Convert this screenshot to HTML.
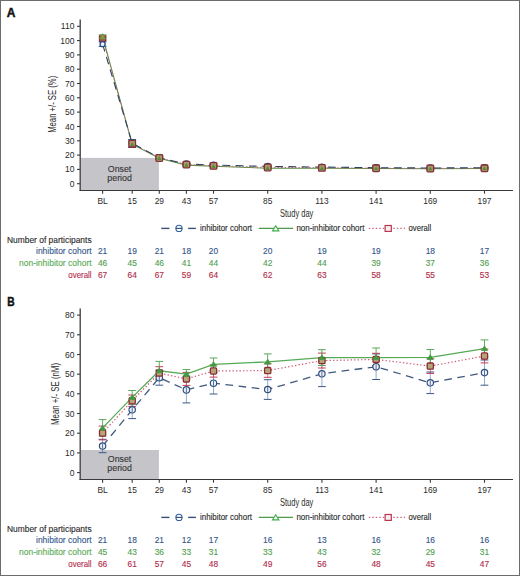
<!DOCTYPE html>
<html><head><meta charset="utf-8"><style>
html,body{margin:0;padding:0;background:#fff;}
.wrap{position:relative;width:520px;height:576px;overflow:hidden;background:#fff;}
svg{position:absolute;left:0;top:0;font-family:"Liberation Sans", sans-serif;}

</style></head><body><div class="wrap">
<svg width="520" height="576" viewBox="0 0 520 576">
<rect x="0" y="0" width="520" height="576" fill="#fff"/>
<text x="6.8" y="16.9" font-size="12" font-weight="bold" fill="#111" stroke="#111" stroke-width="0.45">A</text>
<rect x="80.6" y="157.9" width="78.3" height="32.6" fill="#c5c4c9"/>
<text stroke="#333" stroke-width="0.12" x="119.6" y="172.0" font-size="8.8" fill="#333" text-anchor="middle">Onset</text>
<text stroke="#333" stroke-width="0.12" x="119.6" y="181.2" font-size="8.8" fill="#333" text-anchor="middle">period</text>
<line x1="80.2" y1="19.6" x2="80.2" y2="191.1" stroke="#3a3a3a" stroke-width="1.3"/>
<line x1="79.6" y1="190.5" x2="513" y2="190.5" stroke="#3a3a3a" stroke-width="1.2"/>
<line x1="77" y1="183.7" x2="80" y2="183.7" stroke="#3a3a3a" stroke-width="1.1"/>
<text x="74.4" y="186.7" font-size="8.5" fill="#2a2a2a" text-anchor="end">0</text>
<line x1="77" y1="169.4" x2="80" y2="169.4" stroke="#3a3a3a" stroke-width="1.1"/>
<text x="74.4" y="172.4" font-size="8.5" fill="#2a2a2a" text-anchor="end">10</text>
<line x1="77" y1="155.1" x2="80" y2="155.1" stroke="#3a3a3a" stroke-width="1.1"/>
<text x="74.4" y="158.1" font-size="8.5" fill="#2a2a2a" text-anchor="end">20</text>
<line x1="77" y1="140.8" x2="80" y2="140.8" stroke="#3a3a3a" stroke-width="1.1"/>
<text x="74.4" y="143.8" font-size="8.5" fill="#2a2a2a" text-anchor="end">30</text>
<line x1="77" y1="126.5" x2="80" y2="126.5" stroke="#3a3a3a" stroke-width="1.1"/>
<text x="74.4" y="129.5" font-size="8.5" fill="#2a2a2a" text-anchor="end">40</text>
<line x1="77" y1="112.1" x2="80" y2="112.1" stroke="#3a3a3a" stroke-width="1.1"/>
<text x="74.4" y="115.1" font-size="8.5" fill="#2a2a2a" text-anchor="end">50</text>
<line x1="77" y1="97.8" x2="80" y2="97.8" stroke="#3a3a3a" stroke-width="1.1"/>
<text x="74.4" y="100.8" font-size="8.5" fill="#2a2a2a" text-anchor="end">60</text>
<line x1="77" y1="83.5" x2="80" y2="83.5" stroke="#3a3a3a" stroke-width="1.1"/>
<text x="74.4" y="86.5" font-size="8.5" fill="#2a2a2a" text-anchor="end">70</text>
<line x1="77" y1="69.2" x2="80" y2="69.2" stroke="#3a3a3a" stroke-width="1.1"/>
<text x="74.4" y="72.2" font-size="8.5" fill="#2a2a2a" text-anchor="end">80</text>
<line x1="77" y1="54.9" x2="80" y2="54.9" stroke="#3a3a3a" stroke-width="1.1"/>
<text x="74.4" y="57.9" font-size="8.5" fill="#2a2a2a" text-anchor="end">90</text>
<line x1="77" y1="40.6" x2="80" y2="40.6" stroke="#3a3a3a" stroke-width="1.1"/>
<text x="74.4" y="43.6" font-size="8.5" fill="#2a2a2a" text-anchor="end">100</text>
<line x1="77" y1="26.3" x2="80" y2="26.3" stroke="#3a3a3a" stroke-width="1.1"/>
<text x="74.4" y="29.3" font-size="8.5" fill="#2a2a2a" text-anchor="end">110</text>
<line x1="102.6" y1="190.5" x2="102.6" y2="193.7" stroke="#3a3a3a" stroke-width="1.1"/>
<text x="102.6" y="203.8" font-size="8.4" fill="#2a2a2a" text-anchor="middle">BL</text>
<line x1="132.2" y1="190.5" x2="132.2" y2="193.7" stroke="#3a3a3a" stroke-width="1.1"/>
<text x="132.2" y="203.8" font-size="8.4" fill="#2a2a2a" text-anchor="middle">15</text>
<line x1="159.3" y1="190.5" x2="159.3" y2="193.7" stroke="#3a3a3a" stroke-width="1.1"/>
<text x="159.3" y="203.8" font-size="8.4" fill="#2a2a2a" text-anchor="middle">29</text>
<line x1="186.4" y1="190.5" x2="186.4" y2="193.7" stroke="#3a3a3a" stroke-width="1.1"/>
<text x="186.4" y="203.8" font-size="8.4" fill="#2a2a2a" text-anchor="middle">43</text>
<line x1="213.5" y1="190.5" x2="213.5" y2="193.7" stroke="#3a3a3a" stroke-width="1.1"/>
<text x="213.5" y="203.8" font-size="8.4" fill="#2a2a2a" text-anchor="middle">57</text>
<line x1="267.7" y1="190.5" x2="267.7" y2="193.7" stroke="#3a3a3a" stroke-width="1.1"/>
<text x="267.7" y="203.8" font-size="8.4" fill="#2a2a2a" text-anchor="middle">85</text>
<line x1="321.9" y1="190.5" x2="321.9" y2="193.7" stroke="#3a3a3a" stroke-width="1.1"/>
<text x="321.9" y="203.8" font-size="8.4" fill="#2a2a2a" text-anchor="middle">113</text>
<line x1="376.1" y1="190.5" x2="376.1" y2="193.7" stroke="#3a3a3a" stroke-width="1.1"/>
<text x="376.1" y="203.8" font-size="8.4" fill="#2a2a2a" text-anchor="middle">141</text>
<line x1="430.3" y1="190.5" x2="430.3" y2="193.7" stroke="#3a3a3a" stroke-width="1.1"/>
<text x="430.3" y="203.8" font-size="8.4" fill="#2a2a2a" text-anchor="middle">169</text>
<line x1="484.5" y1="190.5" x2="484.5" y2="193.7" stroke="#3a3a3a" stroke-width="1.1"/>
<text x="484.5" y="203.8" font-size="8.4" fill="#2a2a2a" text-anchor="middle">197</text>
<text x="280" y="217.0" font-size="10.3" fill="#2a2a2a" textLength="33.3" lengthAdjust="spacingAndGlyphs">Study day</text>
<text transform="translate(55.5,104.3) rotate(-90)" font-size="10.3" fill="#2a2a2a" text-anchor="middle" textLength="57" lengthAdjust="spacingAndGlyphs">Mean +/- SE (%)</text>
<line x1="102.6" y1="34.9" x2="102.6" y2="38.3" stroke="#3e9a3a" stroke-width="0.9" stroke-opacity="0.9"/>
<line x1="98.7" y1="34.9" x2="106.5" y2="34.9" stroke="#3e9a3a" stroke-width="1.0"/>
<line x1="98.7" y1="38.3" x2="106.5" y2="38.3" stroke="#3e9a3a" stroke-width="1.0"/>
<line x1="132.2" y1="141.1" x2="132.2" y2="147.4" stroke="#3e9a3a" stroke-width="0.9" stroke-opacity="0.9"/>
<line x1="128.3" y1="141.1" x2="136.1" y2="141.1" stroke="#3e9a3a" stroke-width="1.0"/>
<line x1="128.3" y1="147.4" x2="136.1" y2="147.4" stroke="#3e9a3a" stroke-width="1.0"/>
<line x1="159.3" y1="156.8" x2="159.3" y2="159.7" stroke="#3e9a3a" stroke-width="0.9" stroke-opacity="0.9"/>
<line x1="155.4" y1="156.8" x2="163.2" y2="156.8" stroke="#3e9a3a" stroke-width="1.0"/>
<line x1="155.4" y1="159.7" x2="163.2" y2="159.7" stroke="#3e9a3a" stroke-width="1.0"/>
<line x1="186.4" y1="164.1" x2="186.4" y2="166.1" stroke="#3e9a3a" stroke-width="0.9" stroke-opacity="0.9"/>
<line x1="182.5" y1="164.1" x2="190.3" y2="164.1" stroke="#3e9a3a" stroke-width="1.0"/>
<line x1="182.5" y1="166.1" x2="190.3" y2="166.1" stroke="#3e9a3a" stroke-width="1.0"/>
<line x1="213.5" y1="165.4" x2="213.5" y2="167.1" stroke="#3e9a3a" stroke-width="0.9" stroke-opacity="0.9"/>
<line x1="209.6" y1="165.4" x2="217.4" y2="165.4" stroke="#3e9a3a" stroke-width="1.0"/>
<line x1="209.6" y1="167.1" x2="217.4" y2="167.1" stroke="#3e9a3a" stroke-width="1.0"/>
<line x1="267.7" y1="167.4" x2="267.7" y2="169.1" stroke="#3e9a3a" stroke-width="0.9" stroke-opacity="0.9"/>
<line x1="263.8" y1="167.4" x2="271.6" y2="167.4" stroke="#3e9a3a" stroke-width="1.0"/>
<line x1="263.8" y1="169.1" x2="271.6" y2="169.1" stroke="#3e9a3a" stroke-width="1.0"/>
<line x1="321.9" y1="167.5" x2="321.9" y2="169.0" stroke="#3e9a3a" stroke-width="0.9" stroke-opacity="0.9"/>
<line x1="318.0" y1="167.5" x2="325.8" y2="167.5" stroke="#3e9a3a" stroke-width="1.0"/>
<line x1="318.0" y1="169.0" x2="325.8" y2="169.0" stroke="#3e9a3a" stroke-width="1.0"/>
<line x1="376.1" y1="167.8" x2="376.1" y2="169.2" stroke="#3e9a3a" stroke-width="0.9" stroke-opacity="0.9"/>
<line x1="372.2" y1="167.8" x2="380.0" y2="167.8" stroke="#3e9a3a" stroke-width="1.0"/>
<line x1="372.2" y1="169.2" x2="380.0" y2="169.2" stroke="#3e9a3a" stroke-width="1.0"/>
<line x1="430.3" y1="168.1" x2="430.3" y2="169.5" stroke="#3e9a3a" stroke-width="0.9" stroke-opacity="0.9"/>
<line x1="426.4" y1="168.1" x2="434.2" y2="168.1" stroke="#3e9a3a" stroke-width="1.0"/>
<line x1="426.4" y1="169.5" x2="434.2" y2="169.5" stroke="#3e9a3a" stroke-width="1.0"/>
<line x1="484.5" y1="167.8" x2="484.5" y2="169.2" stroke="#3e9a3a" stroke-width="0.9" stroke-opacity="0.9"/>
<line x1="480.6" y1="167.8" x2="488.4" y2="167.8" stroke="#3e9a3a" stroke-width="1.0"/>
<line x1="480.6" y1="169.2" x2="488.4" y2="169.2" stroke="#3e9a3a" stroke-width="1.0"/>
<line x1="102.6" y1="36.9" x2="102.6" y2="40.0" stroke="#a8233f" stroke-width="0.7" stroke-opacity="0.75"/>
<line x1="98.7" y1="36.9" x2="106.5" y2="36.9" stroke="#a8233f" stroke-width="1.0"/>
<line x1="98.7" y1="40.0" x2="106.5" y2="40.0" stroke="#a8233f" stroke-width="1.0"/>
<line x1="132.2" y1="139.9" x2="132.2" y2="147.4" stroke="#a8233f" stroke-width="0.7" stroke-opacity="0.75"/>
<line x1="128.3" y1="139.9" x2="136.1" y2="139.9" stroke="#a8233f" stroke-width="1.0"/>
<line x1="128.3" y1="147.4" x2="136.1" y2="147.4" stroke="#a8233f" stroke-width="1.0"/>
<line x1="159.3" y1="156.7" x2="159.3" y2="159.2" stroke="#a8233f" stroke-width="0.7" stroke-opacity="0.75"/>
<line x1="155.4" y1="156.7" x2="163.2" y2="156.7" stroke="#a8233f" stroke-width="1.0"/>
<line x1="155.4" y1="159.2" x2="163.2" y2="159.2" stroke="#a8233f" stroke-width="1.0"/>
<line x1="186.4" y1="163.7" x2="186.4" y2="165.4" stroke="#a8233f" stroke-width="0.7" stroke-opacity="0.75"/>
<line x1="182.5" y1="163.7" x2="190.3" y2="163.7" stroke="#a8233f" stroke-width="1.0"/>
<line x1="182.5" y1="165.4" x2="190.3" y2="165.4" stroke="#a8233f" stroke-width="1.0"/>
<line x1="213.5" y1="165.0" x2="213.5" y2="166.7" stroke="#a8233f" stroke-width="0.7" stroke-opacity="0.75"/>
<line x1="209.6" y1="165.0" x2="217.4" y2="165.0" stroke="#a8233f" stroke-width="1.0"/>
<line x1="209.6" y1="166.7" x2="217.4" y2="166.7" stroke="#a8233f" stroke-width="1.0"/>
<line x1="267.7" y1="166.5" x2="267.7" y2="168.2" stroke="#a8233f" stroke-width="0.7" stroke-opacity="0.75"/>
<line x1="263.8" y1="166.5" x2="271.6" y2="166.5" stroke="#a8233f" stroke-width="1.0"/>
<line x1="263.8" y1="168.2" x2="271.6" y2="168.2" stroke="#a8233f" stroke-width="1.0"/>
<line x1="321.9" y1="167.1" x2="321.9" y2="168.5" stroke="#a8233f" stroke-width="0.7" stroke-opacity="0.75"/>
<line x1="318.0" y1="167.1" x2="325.8" y2="167.1" stroke="#a8233f" stroke-width="1.0"/>
<line x1="318.0" y1="168.5" x2="325.8" y2="168.5" stroke="#a8233f" stroke-width="1.0"/>
<line x1="376.1" y1="167.5" x2="376.1" y2="169.0" stroke="#a8233f" stroke-width="0.7" stroke-opacity="0.75"/>
<line x1="372.2" y1="167.5" x2="380.0" y2="167.5" stroke="#a8233f" stroke-width="1.0"/>
<line x1="372.2" y1="169.0" x2="380.0" y2="169.0" stroke="#a8233f" stroke-width="1.0"/>
<line x1="430.3" y1="167.7" x2="430.3" y2="169.1" stroke="#a8233f" stroke-width="0.7" stroke-opacity="0.75"/>
<line x1="426.4" y1="167.7" x2="434.2" y2="167.7" stroke="#a8233f" stroke-width="1.0"/>
<line x1="426.4" y1="169.1" x2="434.2" y2="169.1" stroke="#a8233f" stroke-width="1.0"/>
<line x1="484.5" y1="167.5" x2="484.5" y2="169.0" stroke="#a8233f" stroke-width="0.7" stroke-opacity="0.75"/>
<line x1="480.6" y1="167.5" x2="488.4" y2="167.5" stroke="#a8233f" stroke-width="1.0"/>
<line x1="480.6" y1="169.0" x2="488.4" y2="169.0" stroke="#a8233f" stroke-width="1.0"/>
<line x1="102.6" y1="41.9" x2="102.6" y2="46.5" stroke="#2f5f99" stroke-width="0.7" stroke-opacity="0.75"/>
<line x1="98.7" y1="41.9" x2="106.5" y2="41.9" stroke="#2f5f99" stroke-width="1.0"/>
<line x1="98.7" y1="46.5" x2="106.5" y2="46.5" stroke="#2f5f99" stroke-width="1.0"/>
<line x1="132.2" y1="139.5" x2="132.2" y2="146.9" stroke="#2f5f99" stroke-width="0.7" stroke-opacity="0.75"/>
<line x1="128.3" y1="139.5" x2="136.1" y2="139.5" stroke="#2f5f99" stroke-width="1.0"/>
<line x1="128.3" y1="146.9" x2="136.1" y2="146.9" stroke="#2f5f99" stroke-width="1.0"/>
<line x1="159.3" y1="155.9" x2="159.3" y2="159.4" stroke="#2f5f99" stroke-width="0.7" stroke-opacity="0.75"/>
<line x1="155.4" y1="155.9" x2="163.2" y2="155.9" stroke="#2f5f99" stroke-width="1.0"/>
<line x1="155.4" y1="159.4" x2="163.2" y2="159.4" stroke="#2f5f99" stroke-width="1.0"/>
<line x1="186.4" y1="162.7" x2="186.4" y2="165.2" stroke="#2f5f99" stroke-width="0.7" stroke-opacity="0.75"/>
<line x1="182.5" y1="162.7" x2="190.3" y2="162.7" stroke="#2f5f99" stroke-width="1.0"/>
<line x1="182.5" y1="165.2" x2="190.3" y2="165.2" stroke="#2f5f99" stroke-width="1.0"/>
<line x1="213.5" y1="164.0" x2="213.5" y2="166.2" stroke="#2f5f99" stroke-width="0.7" stroke-opacity="0.75"/>
<line x1="209.6" y1="164.0" x2="217.4" y2="164.0" stroke="#2f5f99" stroke-width="1.0"/>
<line x1="209.6" y1="166.2" x2="217.4" y2="166.2" stroke="#2f5f99" stroke-width="1.0"/>
<line x1="267.7" y1="165.1" x2="267.7" y2="167.7" stroke="#2f5f99" stroke-width="0.7" stroke-opacity="0.75"/>
<line x1="263.8" y1="165.1" x2="271.6" y2="165.1" stroke="#2f5f99" stroke-width="1.0"/>
<line x1="263.8" y1="167.7" x2="271.6" y2="167.7" stroke="#2f5f99" stroke-width="1.0"/>
<line x1="321.9" y1="166.1" x2="321.9" y2="168.1" stroke="#2f5f99" stroke-width="0.7" stroke-opacity="0.75"/>
<line x1="318.0" y1="166.1" x2="325.8" y2="166.1" stroke="#2f5f99" stroke-width="1.0"/>
<line x1="318.0" y1="168.1" x2="325.8" y2="168.1" stroke="#2f5f99" stroke-width="1.0"/>
<line x1="376.1" y1="166.8" x2="376.1" y2="168.5" stroke="#2f5f99" stroke-width="0.7" stroke-opacity="0.75"/>
<line x1="372.2" y1="166.8" x2="380.0" y2="166.8" stroke="#2f5f99" stroke-width="1.0"/>
<line x1="372.2" y1="168.5" x2="380.0" y2="168.5" stroke="#2f5f99" stroke-width="1.0"/>
<line x1="430.3" y1="167.1" x2="430.3" y2="168.8" stroke="#2f5f99" stroke-width="0.7" stroke-opacity="0.75"/>
<line x1="426.4" y1="167.1" x2="434.2" y2="167.1" stroke="#2f5f99" stroke-width="1.0"/>
<line x1="426.4" y1="168.8" x2="434.2" y2="168.8" stroke="#2f5f99" stroke-width="1.0"/>
<line x1="484.5" y1="166.7" x2="484.5" y2="168.7" stroke="#2f5f99" stroke-width="0.7" stroke-opacity="0.75"/>
<line x1="480.6" y1="166.7" x2="488.4" y2="166.7" stroke="#2f5f99" stroke-width="1.0"/>
<line x1="480.6" y1="168.7" x2="488.4" y2="168.7" stroke="#2f5f99" stroke-width="1.0"/>
<polyline points="102.6,36.6 132.2,144.2 159.3,158.2 186.4,165.1 213.5,166.2 267.7,168.2 321.9,168.2 376.1,168.5 430.3,168.8 484.5,168.5" fill="none" stroke="#5a8f3e" stroke-width="1.1"/>
<polyline points="102.6,38.5 132.2,143.6 159.3,157.9 186.4,164.5 213.5,165.8 267.7,167.4 321.9,167.8 376.1,168.2 430.3,168.4 484.5,168.2" fill="none" stroke="#cf6079" stroke-width="1.0" stroke-dasharray="1.4 2.1"/>
<polyline points="102.6,44.2 132.2,143.2 159.3,157.7 186.4,164.0 213.5,165.1 267.7,166.4 321.9,167.1 376.1,167.7 430.3,168.0 484.5,167.7" fill="none" stroke="#2c4262" stroke-width="1.1" stroke-dasharray="7.7 5.5"/>
<rect x="99.6" y="35.9" width="6.0" height="5.4" fill="#9a6a50" stroke="#8e2a3c" stroke-width="1.2"/>
<path d="M102.6,33.7 L105.8,38.9 L99.4,38.9 Z" fill="#8a9a48" stroke="#6a8a38" stroke-width="0.8"/>
<circle cx="102.6" cy="44.2" r="2.5" fill="#eef2f8" stroke="#2b4c86" stroke-width="1.3"/>
<circle cx="132.2" cy="143.2" r="3.1" fill="none" stroke="#2f3f70" stroke-width="1.2"/>
<rect x="128.9" y="140.4" width="6.6" height="6.6" rx="0.8" fill="#a89a68" stroke="#84303a" stroke-width="1.3"/>
<path d="M132.2,142.0 L134.4,145.9 L130.0,145.9 Z" fill="#5a8a3a"/>
<circle cx="159.3" cy="157.7" r="3.1" fill="none" stroke="#2f3f70" stroke-width="1.2"/>
<rect x="156.0" y="154.7" width="6.6" height="6.6" rx="0.8" fill="#a89a68" stroke="#84303a" stroke-width="1.3"/>
<path d="M159.3,156.0 L161.5,159.9 L157.1,159.9 Z" fill="#5a8a3a"/>
<circle cx="186.4" cy="164.0" r="3.1" fill="none" stroke="#2f3f70" stroke-width="1.2"/>
<rect x="183.1" y="161.3" width="6.6" height="6.6" rx="0.8" fill="#a89a68" stroke="#84303a" stroke-width="1.3"/>
<path d="M186.4,162.9 L188.6,166.8 L184.2,166.8 Z" fill="#5a8a3a"/>
<circle cx="213.5" cy="165.1" r="3.1" fill="none" stroke="#2f3f70" stroke-width="1.2"/>
<rect x="210.2" y="162.6" width="6.6" height="6.6" rx="0.8" fill="#a89a68" stroke="#84303a" stroke-width="1.3"/>
<path d="M213.5,164.0 L215.7,167.9 L211.3,167.9 Z" fill="#5a8a3a"/>
<circle cx="267.7" cy="166.4" r="3.1" fill="none" stroke="#2f3f70" stroke-width="1.2"/>
<rect x="264.4" y="164.2" width="6.6" height="6.6" rx="0.8" fill="#a89a68" stroke="#84303a" stroke-width="1.3"/>
<path d="M267.7,166.0 L269.9,169.9 L265.5,169.9 Z" fill="#5a8a3a"/>
<circle cx="321.9" cy="167.1" r="3.1" fill="none" stroke="#2f3f70" stroke-width="1.2"/>
<rect x="318.6" y="164.6" width="6.6" height="6.6" rx="0.8" fill="#a89a68" stroke="#84303a" stroke-width="1.3"/>
<path d="M321.9,166.0 L324.1,169.9 L319.7,169.9 Z" fill="#5a8a3a"/>
<circle cx="376.1" cy="167.7" r="3.1" fill="none" stroke="#2f3f70" stroke-width="1.2"/>
<rect x="372.8" y="165.0" width="6.6" height="6.6" rx="0.8" fill="#a89a68" stroke="#84303a" stroke-width="1.3"/>
<path d="M376.1,166.3 L378.3,170.2 L373.9,170.2 Z" fill="#5a8a3a"/>
<circle cx="430.3" cy="168.0" r="3.1" fill="none" stroke="#2f3f70" stroke-width="1.2"/>
<rect x="427.0" y="165.2" width="6.6" height="6.6" rx="0.8" fill="#a89a68" stroke="#84303a" stroke-width="1.3"/>
<path d="M430.3,166.6 L432.5,170.5 L428.1,170.5 Z" fill="#5a8a3a"/>
<circle cx="484.5" cy="167.7" r="3.1" fill="none" stroke="#2f3f70" stroke-width="1.2"/>
<rect x="481.2" y="165.0" width="6.6" height="6.6" rx="0.8" fill="#a89a68" stroke="#84303a" stroke-width="1.3"/>
<path d="M484.5,166.3 L486.7,170.2 L482.3,170.2 Z" fill="#5a8a3a"/>
<line x1="161.3" y1="228.4" x2="169.4" y2="228.4" stroke="#3a5075" stroke-width="1.4"/>
<line x1="175.8" y1="228.4" x2="182.2" y2="228.4" stroke="#3a5075" stroke-width="1.2"/>
<circle cx="179" cy="228.4" r="3.1" fill="none" stroke="#2f5f99" stroke-width="1.1"/>
<line x1="188.2" y1="228.4" x2="195.9" y2="228.4" stroke="#3a5075" stroke-width="1.4"/>
<text stroke="#2a2a2a" stroke-width="0.12" x="200" y="231.3" font-size="8.35" fill="#2a2a2a" textLength="52" lengthAdjust="spacingAndGlyphs">inhibitor cohort</text>
<line x1="258.8" y1="228.4" x2="293" y2="228.4" stroke="#4f9a4a" stroke-width="1.3"/>
<path d="M275.7,225.7 L278.9,230.9 L272.5,230.9 Z" fill="#fff" stroke="#3fae48" stroke-width="1.1"/>
<text stroke="#2a2a2a" stroke-width="0.12" x="296.4" y="231.3" font-size="8.35" fill="#2a2a2a" textLength="68" lengthAdjust="spacingAndGlyphs">non-inhibitor cohort</text>
<line x1="368.8" y1="228.4" x2="405" y2="228.4" stroke="#cf6079" stroke-width="1.2" stroke-dasharray="1.4 2.1"/>
<rect x="385.1" y="225.5" width="6.2" height="5.9" fill="#fbeef1" stroke="#b8374f" stroke-width="1.2"/>
<text stroke="#2a2a2a" stroke-width="0.12" x="408.5" y="231.3" font-size="8.35" fill="#2a2a2a" textLength="22.8" lengthAdjust="spacingAndGlyphs">overall</text>
<text stroke="#2a2a2a" stroke-width="0.12" x="7" y="242.5" font-size="8.4" fill="#2a2a2a" textLength="84.6" lengthAdjust="spacingAndGlyphs">Number of participants</text>
<text stroke="#33598e" stroke-width="0.12" x="36.0" y="254.4" font-size="8.4" fill="#33598e" textLength="55.6" lengthAdjust="spacingAndGlyphs">inhibitor cohort</text>
<text stroke="#31558a" stroke-width="0.12" x="102.6" y="254.4" font-size="8.4" fill="#31558a" text-anchor="middle">21</text>
<text stroke="#31558a" stroke-width="0.12" x="132.2" y="254.4" font-size="8.4" fill="#31558a" text-anchor="middle">19</text>
<text stroke="#31558a" stroke-width="0.12" x="159.3" y="254.4" font-size="8.4" fill="#31558a" text-anchor="middle">21</text>
<text stroke="#31558a" stroke-width="0.12" x="186.4" y="254.4" font-size="8.4" fill="#31558a" text-anchor="middle">18</text>
<text stroke="#31558a" stroke-width="0.12" x="213.5" y="254.4" font-size="8.4" fill="#31558a" text-anchor="middle">20</text>
<text stroke="#31558a" stroke-width="0.12" x="267.7" y="254.4" font-size="8.4" fill="#31558a" text-anchor="middle">20</text>
<text stroke="#31558a" stroke-width="0.12" x="321.9" y="254.4" font-size="8.4" fill="#31558a" text-anchor="middle">19</text>
<text stroke="#31558a" stroke-width="0.12" x="376.1" y="254.4" font-size="8.4" fill="#31558a" text-anchor="middle">19</text>
<text stroke="#31558a" stroke-width="0.12" x="430.3" y="254.4" font-size="8.4" fill="#31558a" text-anchor="middle">18</text>
<text stroke="#31558a" stroke-width="0.12" x="484.5" y="254.4" font-size="8.4" fill="#31558a" text-anchor="middle">17</text>
<text stroke="#5aac58" stroke-width="0.12" x="19.0" y="266.2" font-size="8.4" fill="#5aac58" textLength="72.6" lengthAdjust="spacingAndGlyphs">non-inhibitor cohort</text>
<text stroke="#4fa04f" stroke-width="0.12" x="102.6" y="266.2" font-size="8.4" fill="#4fa04f" text-anchor="middle">46</text>
<text stroke="#4fa04f" stroke-width="0.12" x="132.2" y="266.2" font-size="8.4" fill="#4fa04f" text-anchor="middle">45</text>
<text stroke="#4fa04f" stroke-width="0.12" x="159.3" y="266.2" font-size="8.4" fill="#4fa04f" text-anchor="middle">46</text>
<text stroke="#4fa04f" stroke-width="0.12" x="186.4" y="266.2" font-size="8.4" fill="#4fa04f" text-anchor="middle">41</text>
<text stroke="#4fa04f" stroke-width="0.12" x="213.5" y="266.2" font-size="8.4" fill="#4fa04f" text-anchor="middle">44</text>
<text stroke="#4fa04f" stroke-width="0.12" x="267.7" y="266.2" font-size="8.4" fill="#4fa04f" text-anchor="middle">42</text>
<text stroke="#4fa04f" stroke-width="0.12" x="321.9" y="266.2" font-size="8.4" fill="#4fa04f" text-anchor="middle">44</text>
<text stroke="#4fa04f" stroke-width="0.12" x="376.1" y="266.2" font-size="8.4" fill="#4fa04f" text-anchor="middle">39</text>
<text stroke="#4fa04f" stroke-width="0.12" x="430.3" y="266.2" font-size="8.4" fill="#4fa04f" text-anchor="middle">37</text>
<text stroke="#4fa04f" stroke-width="0.12" x="484.5" y="266.2" font-size="8.4" fill="#4fa04f" text-anchor="middle">36</text>
<text stroke="#b52e4c" stroke-width="0.12" x="68.3" y="278.0" font-size="8.4" fill="#b52e4c" textLength="23.3" lengthAdjust="spacingAndGlyphs">overall</text>
<text stroke="#b02c4a" stroke-width="0.12" x="102.6" y="278.0" font-size="8.4" fill="#b02c4a" text-anchor="middle">67</text>
<text stroke="#b02c4a" stroke-width="0.12" x="132.2" y="278.0" font-size="8.4" fill="#b02c4a" text-anchor="middle">64</text>
<text stroke="#b02c4a" stroke-width="0.12" x="159.3" y="278.0" font-size="8.4" fill="#b02c4a" text-anchor="middle">67</text>
<text stroke="#b02c4a" stroke-width="0.12" x="186.4" y="278.0" font-size="8.4" fill="#b02c4a" text-anchor="middle">59</text>
<text stroke="#b02c4a" stroke-width="0.12" x="213.5" y="278.0" font-size="8.4" fill="#b02c4a" text-anchor="middle">64</text>
<text stroke="#b02c4a" stroke-width="0.12" x="267.7" y="278.0" font-size="8.4" fill="#b02c4a" text-anchor="middle">62</text>
<text stroke="#b02c4a" stroke-width="0.12" x="321.9" y="278.0" font-size="8.4" fill="#b02c4a" text-anchor="middle">63</text>
<text stroke="#b02c4a" stroke-width="0.12" x="376.1" y="278.0" font-size="8.4" fill="#b02c4a" text-anchor="middle">58</text>
<text stroke="#b02c4a" stroke-width="0.12" x="430.3" y="278.0" font-size="8.4" fill="#b02c4a" text-anchor="middle">55</text>
<text stroke="#b02c4a" stroke-width="0.12" x="484.5" y="278.0" font-size="8.4" fill="#b02c4a" text-anchor="middle">53</text>
<text x="7.3" y="305.9" font-size="12" font-weight="bold" fill="#111" stroke="#111" stroke-width="0.45" textLength="7.4" lengthAdjust="spacingAndGlyphs">B</text>
<rect x="80.6" y="450.0" width="78.3" height="29.5" fill="#c5c4c9"/>
<text stroke="#333" stroke-width="0.12" x="119.6" y="462.2" font-size="8.8" fill="#333" text-anchor="middle">Onset</text>
<text stroke="#333" stroke-width="0.12" x="119.6" y="471.4" font-size="8.8" fill="#333" text-anchor="middle">period</text>
<line x1="80.2" y1="308.6" x2="80.2" y2="480.1" stroke="#3a3a3a" stroke-width="1.3"/>
<line x1="79.6" y1="479.5" x2="513" y2="479.5" stroke="#3a3a3a" stroke-width="1.2"/>
<line x1="77" y1="472.6" x2="80" y2="472.6" stroke="#3a3a3a" stroke-width="1.1"/>
<text x="74.4" y="475.6" font-size="8.5" fill="#2a2a2a" text-anchor="end">0</text>
<line x1="77" y1="452.9" x2="80" y2="452.9" stroke="#3a3a3a" stroke-width="1.1"/>
<text x="74.4" y="455.9" font-size="8.5" fill="#2a2a2a" text-anchor="end">10</text>
<line x1="77" y1="433.2" x2="80" y2="433.2" stroke="#3a3a3a" stroke-width="1.1"/>
<text x="74.4" y="436.2" font-size="8.5" fill="#2a2a2a" text-anchor="end">20</text>
<line x1="77" y1="413.5" x2="80" y2="413.5" stroke="#3a3a3a" stroke-width="1.1"/>
<text x="74.4" y="416.5" font-size="8.5" fill="#2a2a2a" text-anchor="end">30</text>
<line x1="77" y1="393.8" x2="80" y2="393.8" stroke="#3a3a3a" stroke-width="1.1"/>
<text x="74.4" y="396.8" font-size="8.5" fill="#2a2a2a" text-anchor="end">40</text>
<line x1="77" y1="374.2" x2="80" y2="374.2" stroke="#3a3a3a" stroke-width="1.1"/>
<text x="74.4" y="377.2" font-size="8.5" fill="#2a2a2a" text-anchor="end">50</text>
<line x1="77" y1="354.5" x2="80" y2="354.5" stroke="#3a3a3a" stroke-width="1.1"/>
<text x="74.4" y="357.5" font-size="8.5" fill="#2a2a2a" text-anchor="end">60</text>
<line x1="77" y1="334.8" x2="80" y2="334.8" stroke="#3a3a3a" stroke-width="1.1"/>
<text x="74.4" y="337.8" font-size="8.5" fill="#2a2a2a" text-anchor="end">70</text>
<line x1="77" y1="315.1" x2="80" y2="315.1" stroke="#3a3a3a" stroke-width="1.1"/>
<text x="74.4" y="318.1" font-size="8.5" fill="#2a2a2a" text-anchor="end">80</text>
<line x1="102.6" y1="479.5" x2="102.6" y2="482.7" stroke="#3a3a3a" stroke-width="1.1"/>
<text x="102.6" y="492.8" font-size="8.4" fill="#2a2a2a" text-anchor="middle">BL</text>
<line x1="132.2" y1="479.5" x2="132.2" y2="482.7" stroke="#3a3a3a" stroke-width="1.1"/>
<text x="132.2" y="492.8" font-size="8.4" fill="#2a2a2a" text-anchor="middle">15</text>
<line x1="159.3" y1="479.5" x2="159.3" y2="482.7" stroke="#3a3a3a" stroke-width="1.1"/>
<text x="159.3" y="492.8" font-size="8.4" fill="#2a2a2a" text-anchor="middle">29</text>
<line x1="186.4" y1="479.5" x2="186.4" y2="482.7" stroke="#3a3a3a" stroke-width="1.1"/>
<text x="186.4" y="492.8" font-size="8.4" fill="#2a2a2a" text-anchor="middle">43</text>
<line x1="213.5" y1="479.5" x2="213.5" y2="482.7" stroke="#3a3a3a" stroke-width="1.1"/>
<text x="213.5" y="492.8" font-size="8.4" fill="#2a2a2a" text-anchor="middle">57</text>
<line x1="267.7" y1="479.5" x2="267.7" y2="482.7" stroke="#3a3a3a" stroke-width="1.1"/>
<text x="267.7" y="492.8" font-size="8.4" fill="#2a2a2a" text-anchor="middle">85</text>
<line x1="321.9" y1="479.5" x2="321.9" y2="482.7" stroke="#3a3a3a" stroke-width="1.1"/>
<text x="321.9" y="492.8" font-size="8.4" fill="#2a2a2a" text-anchor="middle">113</text>
<line x1="376.1" y1="479.5" x2="376.1" y2="482.7" stroke="#3a3a3a" stroke-width="1.1"/>
<text x="376.1" y="492.8" font-size="8.4" fill="#2a2a2a" text-anchor="middle">141</text>
<line x1="430.3" y1="479.5" x2="430.3" y2="482.7" stroke="#3a3a3a" stroke-width="1.1"/>
<text x="430.3" y="492.8" font-size="8.4" fill="#2a2a2a" text-anchor="middle">169</text>
<line x1="484.5" y1="479.5" x2="484.5" y2="482.7" stroke="#3a3a3a" stroke-width="1.1"/>
<text x="484.5" y="492.8" font-size="8.4" fill="#2a2a2a" text-anchor="middle">197</text>
<text x="280" y="506.0" font-size="10.3" fill="#2a2a2a" textLength="33.3" lengthAdjust="spacingAndGlyphs">Study day</text>
<text transform="translate(59.4,394.0) rotate(-90)" font-size="10.3" fill="#2a2a2a" text-anchor="middle" textLength="62" lengthAdjust="spacingAndGlyphs">Mean +/- SE (nM)</text>
<line x1="102.6" y1="439.3" x2="102.6" y2="452.7" stroke="#2f5f99" stroke-width="0.7" stroke-opacity="0.75"/>
<line x1="98.7" y1="439.3" x2="106.5" y2="439.3" stroke="#3a5886" stroke-width="1.0"/>
<line x1="98.7" y1="452.7" x2="106.5" y2="452.7" stroke="#3a5886" stroke-width="1.0"/>
<line x1="132.2" y1="400.9" x2="132.2" y2="418.6" stroke="#2f5f99" stroke-width="0.7" stroke-opacity="0.75"/>
<line x1="128.3" y1="400.9" x2="136.1" y2="400.9" stroke="#3a5886" stroke-width="1.0"/>
<line x1="128.3" y1="418.6" x2="136.1" y2="418.6" stroke="#3a5886" stroke-width="1.0"/>
<line x1="159.3" y1="370.2" x2="159.3" y2="385.2" stroke="#2f5f99" stroke-width="0.7" stroke-opacity="0.75"/>
<line x1="155.4" y1="370.2" x2="163.2" y2="370.2" stroke="#3a5886" stroke-width="1.0"/>
<line x1="155.4" y1="385.2" x2="163.2" y2="385.2" stroke="#3a5886" stroke-width="1.0"/>
<line x1="186.4" y1="376.9" x2="186.4" y2="402.9" stroke="#2f5f99" stroke-width="0.7" stroke-opacity="0.75"/>
<line x1="182.5" y1="376.9" x2="190.3" y2="376.9" stroke="#3a5886" stroke-width="1.0"/>
<line x1="182.5" y1="402.9" x2="190.3" y2="402.9" stroke="#3a5886" stroke-width="1.0"/>
<line x1="213.5" y1="372.4" x2="213.5" y2="394.0" stroke="#2f5f99" stroke-width="0.7" stroke-opacity="0.75"/>
<line x1="209.6" y1="372.4" x2="217.4" y2="372.4" stroke="#3a5886" stroke-width="1.0"/>
<line x1="209.6" y1="394.0" x2="217.4" y2="394.0" stroke="#3a5886" stroke-width="1.0"/>
<line x1="267.7" y1="379.7" x2="267.7" y2="399.4" stroke="#2f5f99" stroke-width="0.7" stroke-opacity="0.75"/>
<line x1="263.8" y1="379.7" x2="271.6" y2="379.7" stroke="#3a5886" stroke-width="1.0"/>
<line x1="263.8" y1="399.4" x2="271.6" y2="399.4" stroke="#3a5886" stroke-width="1.0"/>
<line x1="321.9" y1="361.0" x2="321.9" y2="386.6" stroke="#2f5f99" stroke-width="0.7" stroke-opacity="0.75"/>
<line x1="318.0" y1="361.0" x2="325.8" y2="361.0" stroke="#3a5886" stroke-width="1.0"/>
<line x1="318.0" y1="386.6" x2="325.8" y2="386.6" stroke="#3a5886" stroke-width="1.0"/>
<line x1="376.1" y1="353.9" x2="376.1" y2="379.5" stroke="#2f5f99" stroke-width="0.7" stroke-opacity="0.75"/>
<line x1="372.2" y1="353.9" x2="380.0" y2="353.9" stroke="#3a5886" stroke-width="1.0"/>
<line x1="372.2" y1="379.5" x2="380.0" y2="379.5" stroke="#3a5886" stroke-width="1.0"/>
<line x1="430.3" y1="372.0" x2="430.3" y2="393.6" stroke="#2f5f99" stroke-width="0.7" stroke-opacity="0.75"/>
<line x1="426.4" y1="372.0" x2="434.2" y2="372.0" stroke="#3a5886" stroke-width="1.0"/>
<line x1="426.4" y1="393.6" x2="434.2" y2="393.6" stroke="#3a5886" stroke-width="1.0"/>
<line x1="484.5" y1="360.0" x2="484.5" y2="385.2" stroke="#2f5f99" stroke-width="0.7" stroke-opacity="0.75"/>
<line x1="480.6" y1="360.0" x2="488.4" y2="360.0" stroke="#3a5886" stroke-width="1.0"/>
<line x1="480.6" y1="385.2" x2="488.4" y2="385.2" stroke="#3a5886" stroke-width="1.0"/>
<line x1="102.6" y1="426.1" x2="102.6" y2="439.9" stroke="#a8233f" stroke-width="0.7" stroke-opacity="0.75"/>
<line x1="98.7" y1="426.1" x2="106.5" y2="426.1" stroke="#c63c58" stroke-width="1.0"/>
<line x1="98.7" y1="439.9" x2="106.5" y2="439.9" stroke="#c63c58" stroke-width="1.0"/>
<line x1="132.2" y1="395.0" x2="132.2" y2="406.4" stroke="#a8233f" stroke-width="0.7" stroke-opacity="0.75"/>
<line x1="128.3" y1="395.0" x2="136.1" y2="395.0" stroke="#c63c58" stroke-width="1.0"/>
<line x1="128.3" y1="406.4" x2="136.1" y2="406.4" stroke="#c63c58" stroke-width="1.0"/>
<line x1="159.3" y1="366.7" x2="159.3" y2="379.3" stroke="#a8233f" stroke-width="0.7" stroke-opacity="0.75"/>
<line x1="155.4" y1="366.7" x2="163.2" y2="366.7" stroke="#c63c58" stroke-width="1.0"/>
<line x1="155.4" y1="379.3" x2="163.2" y2="379.3" stroke="#c63c58" stroke-width="1.0"/>
<line x1="186.4" y1="372.4" x2="186.4" y2="385.4" stroke="#a8233f" stroke-width="0.7" stroke-opacity="0.75"/>
<line x1="182.5" y1="372.4" x2="190.3" y2="372.4" stroke="#c63c58" stroke-width="1.0"/>
<line x1="182.5" y1="385.4" x2="190.3" y2="385.4" stroke="#c63c58" stroke-width="1.0"/>
<line x1="213.5" y1="364.9" x2="213.5" y2="377.1" stroke="#a8233f" stroke-width="0.7" stroke-opacity="0.75"/>
<line x1="209.6" y1="364.9" x2="217.4" y2="364.9" stroke="#c63c58" stroke-width="1.0"/>
<line x1="209.6" y1="377.1" x2="217.4" y2="377.1" stroke="#c63c58" stroke-width="1.0"/>
<line x1="267.7" y1="363.9" x2="267.7" y2="377.3" stroke="#a8233f" stroke-width="0.7" stroke-opacity="0.75"/>
<line x1="263.8" y1="363.9" x2="271.6" y2="363.9" stroke="#c63c58" stroke-width="1.0"/>
<line x1="263.8" y1="377.3" x2="271.6" y2="377.3" stroke="#c63c58" stroke-width="1.0"/>
<line x1="321.9" y1="353.1" x2="321.9" y2="368.0" stroke="#a8233f" stroke-width="0.7" stroke-opacity="0.75"/>
<line x1="318.0" y1="353.1" x2="325.8" y2="353.1" stroke="#c63c58" stroke-width="1.0"/>
<line x1="318.0" y1="368.0" x2="325.8" y2="368.0" stroke="#c63c58" stroke-width="1.0"/>
<line x1="376.1" y1="353.3" x2="376.1" y2="365.5" stroke="#a8233f" stroke-width="0.7" stroke-opacity="0.75"/>
<line x1="372.2" y1="353.3" x2="380.0" y2="353.3" stroke="#c63c58" stroke-width="1.0"/>
<line x1="372.2" y1="365.5" x2="380.0" y2="365.5" stroke="#c63c58" stroke-width="1.0"/>
<line x1="430.3" y1="358.8" x2="430.3" y2="373.4" stroke="#a8233f" stroke-width="0.7" stroke-opacity="0.75"/>
<line x1="426.4" y1="358.8" x2="434.2" y2="358.8" stroke="#c63c58" stroke-width="1.0"/>
<line x1="426.4" y1="373.4" x2="434.2" y2="373.4" stroke="#c63c58" stroke-width="1.0"/>
<line x1="484.5" y1="349.1" x2="484.5" y2="362.9" stroke="#a8233f" stroke-width="0.7" stroke-opacity="0.75"/>
<line x1="480.6" y1="349.1" x2="488.4" y2="349.1" stroke="#c63c58" stroke-width="1.0"/>
<line x1="480.6" y1="362.9" x2="488.4" y2="362.9" stroke="#c63c58" stroke-width="1.0"/>
<line x1="102.6" y1="419.6" x2="102.6" y2="436.2" stroke="#3e9a3a" stroke-width="0.9" stroke-opacity="0.9"/>
<line x1="98.7" y1="419.6" x2="106.5" y2="419.6" stroke="#5aa85c" stroke-width="1.0"/>
<line x1="98.7" y1="436.2" x2="106.5" y2="436.2" stroke="#5aa85c" stroke-width="1.0"/>
<line x1="132.2" y1="390.5" x2="132.2" y2="404.3" stroke="#3e9a3a" stroke-width="0.9" stroke-opacity="0.9"/>
<line x1="128.3" y1="390.5" x2="136.1" y2="390.5" stroke="#5aa85c" stroke-width="1.0"/>
<line x1="128.3" y1="404.3" x2="136.1" y2="404.3" stroke="#5aa85c" stroke-width="1.0"/>
<line x1="159.3" y1="361.4" x2="159.3" y2="380.3" stroke="#3e9a3a" stroke-width="0.9" stroke-opacity="0.9"/>
<line x1="155.4" y1="361.4" x2="163.2" y2="361.4" stroke="#5aa85c" stroke-width="1.0"/>
<line x1="155.4" y1="380.3" x2="163.2" y2="380.3" stroke="#5aa85c" stroke-width="1.0"/>
<line x1="186.4" y1="369.6" x2="186.4" y2="378.7" stroke="#3e9a3a" stroke-width="0.9" stroke-opacity="0.9"/>
<line x1="182.5" y1="369.6" x2="190.3" y2="369.6" stroke="#5aa85c" stroke-width="1.0"/>
<line x1="182.5" y1="378.7" x2="190.3" y2="378.7" stroke="#5aa85c" stroke-width="1.0"/>
<line x1="213.5" y1="358.0" x2="213.5" y2="370.6" stroke="#3e9a3a" stroke-width="0.9" stroke-opacity="0.9"/>
<line x1="209.6" y1="358.0" x2="217.4" y2="358.0" stroke="#5aa85c" stroke-width="1.0"/>
<line x1="209.6" y1="370.6" x2="217.4" y2="370.6" stroke="#5aa85c" stroke-width="1.0"/>
<line x1="267.7" y1="353.9" x2="267.7" y2="370.0" stroke="#3e9a3a" stroke-width="0.9" stroke-opacity="0.9"/>
<line x1="263.8" y1="353.9" x2="271.6" y2="353.9" stroke="#5aa85c" stroke-width="1.0"/>
<line x1="263.8" y1="370.0" x2="271.6" y2="370.0" stroke="#5aa85c" stroke-width="1.0"/>
<line x1="321.9" y1="349.7" x2="321.9" y2="365.5" stroke="#3e9a3a" stroke-width="0.9" stroke-opacity="0.9"/>
<line x1="318.0" y1="349.7" x2="325.8" y2="349.7" stroke="#5aa85c" stroke-width="1.0"/>
<line x1="318.0" y1="365.5" x2="325.8" y2="365.5" stroke="#5aa85c" stroke-width="1.0"/>
<line x1="376.1" y1="348.0" x2="376.1" y2="367.3" stroke="#3e9a3a" stroke-width="0.9" stroke-opacity="0.9"/>
<line x1="372.2" y1="348.0" x2="380.0" y2="348.0" stroke="#5aa85c" stroke-width="1.0"/>
<line x1="372.2" y1="367.3" x2="380.0" y2="367.3" stroke="#5aa85c" stroke-width="1.0"/>
<line x1="430.3" y1="349.5" x2="430.3" y2="365.3" stroke="#3e9a3a" stroke-width="0.9" stroke-opacity="0.9"/>
<line x1="426.4" y1="349.5" x2="434.2" y2="349.5" stroke="#5aa85c" stroke-width="1.0"/>
<line x1="426.4" y1="365.3" x2="434.2" y2="365.3" stroke="#5aa85c" stroke-width="1.0"/>
<line x1="484.5" y1="339.9" x2="484.5" y2="357.2" stroke="#3e9a3a" stroke-width="0.9" stroke-opacity="0.9"/>
<line x1="480.6" y1="339.9" x2="488.4" y2="339.9" stroke="#5aa85c" stroke-width="1.0"/>
<line x1="480.6" y1="357.2" x2="488.4" y2="357.2" stroke="#5aa85c" stroke-width="1.0"/>
<polyline points="102.6,446.0 132.2,409.8 159.3,377.7 186.4,389.9 213.5,383.2 267.7,389.5 321.9,373.8 376.1,366.7 430.3,382.8 484.5,372.6" fill="none" stroke="#41597e" stroke-width="1.3" stroke-dasharray="7.7 5.5"/>
<polyline points="102.6,433.0 132.2,400.7 159.3,373.0 186.4,378.9 213.5,371.0 267.7,370.6 321.9,360.6 376.1,359.4 430.3,366.1 484.5,356.0" fill="none" stroke="#cf6079" stroke-width="1.2" stroke-dasharray="1.4 2.1"/>
<polyline points="102.6,427.9 132.2,397.4 159.3,370.8 186.4,374.2 213.5,364.3 267.7,361.9 321.9,357.6 376.1,357.6 430.3,357.4 484.5,348.6" fill="none" stroke="#55aa55" stroke-width="1.3"/>
<circle cx="102.6" cy="446.0" r="3.2" fill="#eef2f7" stroke="#2d4d80" stroke-width="1.15"/>
<line x1="102.6" y1="443.6" x2="102.6" y2="448.4" stroke="#2d4d80" stroke-width="0.8"/>
<circle cx="132.2" cy="409.8" r="3.2" fill="#eef2f7" stroke="#2d4d80" stroke-width="1.15"/>
<line x1="132.2" y1="407.4" x2="132.2" y2="412.2" stroke="#2d4d80" stroke-width="0.8"/>
<circle cx="159.3" cy="377.7" r="3.2" fill="#eef2f7" stroke="#2d4d80" stroke-width="1.15"/>
<line x1="159.3" y1="375.3" x2="159.3" y2="380.1" stroke="#2d4d80" stroke-width="0.8"/>
<circle cx="186.4" cy="389.9" r="3.2" fill="#eef2f7" stroke="#2d4d80" stroke-width="1.15"/>
<line x1="186.4" y1="387.5" x2="186.4" y2="392.3" stroke="#2d4d80" stroke-width="0.8"/>
<circle cx="213.5" cy="383.2" r="3.2" fill="#eef2f7" stroke="#2d4d80" stroke-width="1.15"/>
<line x1="213.5" y1="380.8" x2="213.5" y2="385.6" stroke="#2d4d80" stroke-width="0.8"/>
<circle cx="267.7" cy="389.5" r="3.2" fill="#eef2f7" stroke="#2d4d80" stroke-width="1.15"/>
<line x1="267.7" y1="387.1" x2="267.7" y2="391.9" stroke="#2d4d80" stroke-width="0.8"/>
<circle cx="321.9" cy="373.8" r="3.2" fill="#eef2f7" stroke="#2d4d80" stroke-width="1.15"/>
<line x1="321.9" y1="371.4" x2="321.9" y2="376.2" stroke="#2d4d80" stroke-width="0.8"/>
<circle cx="376.1" cy="366.7" r="3.2" fill="#eef2f7" stroke="#2d4d80" stroke-width="1.15"/>
<line x1="376.1" y1="364.3" x2="376.1" y2="369.1" stroke="#2d4d80" stroke-width="0.8"/>
<circle cx="430.3" cy="382.8" r="3.2" fill="#eef2f7" stroke="#2d4d80" stroke-width="1.15"/>
<line x1="430.3" y1="380.4" x2="430.3" y2="385.2" stroke="#2d4d80" stroke-width="0.8"/>
<circle cx="484.5" cy="372.6" r="3.2" fill="#eef2f7" stroke="#2d4d80" stroke-width="1.15"/>
<line x1="484.5" y1="370.2" x2="484.5" y2="375.0" stroke="#2d4d80" stroke-width="0.8"/>
<rect x="99.5" y="429.9" width="6.2" height="6.2" rx="1.0" fill="#b5a67a" stroke="#8e2a34" stroke-width="1.3"/>
<rect x="129.1" y="397.6" width="6.2" height="6.2" rx="1.0" fill="#b5a67a" stroke="#8e2a34" stroke-width="1.3"/>
<rect x="156.2" y="369.9" width="6.2" height="6.2" rx="1.0" fill="#b5a67a" stroke="#8e2a34" stroke-width="1.3"/>
<rect x="183.3" y="375.8" width="6.2" height="6.2" rx="1.0" fill="#b5a67a" stroke="#8e2a34" stroke-width="1.3"/>
<rect x="210.4" y="367.9" width="6.2" height="6.2" rx="1.0" fill="#b5a67a" stroke="#8e2a34" stroke-width="1.3"/>
<rect x="264.6" y="367.5" width="6.2" height="6.2" rx="1.0" fill="#b5a67a" stroke="#8e2a34" stroke-width="1.3"/>
<rect x="318.8" y="357.5" width="6.2" height="6.2" rx="1.0" fill="#b5a67a" stroke="#8e2a34" stroke-width="1.3"/>
<rect x="373.0" y="356.3" width="6.2" height="6.2" rx="1.0" fill="#b5a67a" stroke="#8e2a34" stroke-width="1.3"/>
<rect x="427.2" y="363.0" width="6.2" height="6.2" rx="1.0" fill="#b5a67a" stroke="#8e2a34" stroke-width="1.3"/>
<rect x="481.4" y="352.9" width="6.2" height="6.2" rx="1.0" fill="#b5a67a" stroke="#8e2a34" stroke-width="1.3"/>
<path d="M102.6,425.3 L105.6,429.9 L99.6,429.9 Z" fill="#3f9a40" stroke="#3f9a40" stroke-width="0.8"/>
<path d="M132.2,394.8 L135.2,399.4 L129.2,399.4 Z" fill="#3f9a40" stroke="#3f9a40" stroke-width="0.8"/>
<path d="M159.3,368.2 L162.3,372.8 L156.3,372.8 Z" fill="#3f9a40" stroke="#3f9a40" stroke-width="0.8"/>
<path d="M186.4,371.6 L189.4,376.2 L183.4,376.2 Z" fill="#3f9a40" stroke="#3f9a40" stroke-width="0.8"/>
<path d="M213.5,361.7 L216.5,366.3 L210.5,366.3 Z" fill="#3f9a40" stroke="#3f9a40" stroke-width="0.8"/>
<path d="M267.7,359.3 L270.7,363.9 L264.7,363.9 Z" fill="#3f9a40" stroke="#3f9a40" stroke-width="0.8"/>
<path d="M321.9,355.0 L324.9,359.6 L318.9,359.6 Z" fill="#3f9a40" stroke="#3f9a40" stroke-width="0.8"/>
<path d="M376.1,355.0 L379.1,359.6 L373.1,359.6 Z" fill="#3f9a40" stroke="#3f9a40" stroke-width="0.8"/>
<path d="M430.3,354.8 L433.3,359.4 L427.3,359.4 Z" fill="#3f9a40" stroke="#3f9a40" stroke-width="0.8"/>
<path d="M484.5,346.0 L487.5,350.6 L481.5,350.6 Z" fill="#3f9a40" stroke="#3f9a40" stroke-width="0.8"/>
<line x1="161.3" y1="517.4" x2="169.4" y2="517.4" stroke="#3a5075" stroke-width="1.4"/>
<line x1="175.8" y1="517.4" x2="182.2" y2="517.4" stroke="#3a5075" stroke-width="1.2"/>
<circle cx="179" cy="517.4" r="3.1" fill="none" stroke="#2f5f99" stroke-width="1.1"/>
<line x1="188.2" y1="517.4" x2="195.9" y2="517.4" stroke="#3a5075" stroke-width="1.4"/>
<text stroke="#2a2a2a" stroke-width="0.12" x="200" y="520.3" font-size="8.35" fill="#2a2a2a" textLength="52" lengthAdjust="spacingAndGlyphs">inhibitor cohort</text>
<line x1="258.8" y1="517.4" x2="293" y2="517.4" stroke="#4f9a4a" stroke-width="1.3"/>
<path d="M275.7,514.7 L278.9,519.9 L272.5,519.9 Z" fill="#fff" stroke="#3fae48" stroke-width="1.1"/>
<text stroke="#2a2a2a" stroke-width="0.12" x="296.4" y="520.3" font-size="8.35" fill="#2a2a2a" textLength="68" lengthAdjust="spacingAndGlyphs">non-inhibitor cohort</text>
<line x1="368.8" y1="517.4" x2="405" y2="517.4" stroke="#cf6079" stroke-width="1.2" stroke-dasharray="1.4 2.1"/>
<rect x="385.1" y="514.5" width="6.2" height="5.9" fill="#fbeef1" stroke="#b8374f" stroke-width="1.2"/>
<text stroke="#2a2a2a" stroke-width="0.12" x="408.5" y="520.3" font-size="8.35" fill="#2a2a2a" textLength="22.8" lengthAdjust="spacingAndGlyphs">overall</text>
<text stroke="#2a2a2a" stroke-width="0.12" x="7" y="531.5" font-size="8.4" fill="#2a2a2a" textLength="84.6" lengthAdjust="spacingAndGlyphs">Number of participants</text>
<text stroke="#33598e" stroke-width="0.12" x="36.0" y="543.4" font-size="8.4" fill="#33598e" textLength="55.6" lengthAdjust="spacingAndGlyphs">inhibitor cohort</text>
<text stroke="#31558a" stroke-width="0.12" x="102.6" y="543.4" font-size="8.4" fill="#31558a" text-anchor="middle">21</text>
<text stroke="#31558a" stroke-width="0.12" x="132.2" y="543.4" font-size="8.4" fill="#31558a" text-anchor="middle">18</text>
<text stroke="#31558a" stroke-width="0.12" x="159.3" y="543.4" font-size="8.4" fill="#31558a" text-anchor="middle">21</text>
<text stroke="#31558a" stroke-width="0.12" x="186.4" y="543.4" font-size="8.4" fill="#31558a" text-anchor="middle">12</text>
<text stroke="#31558a" stroke-width="0.12" x="213.5" y="543.4" font-size="8.4" fill="#31558a" text-anchor="middle">17</text>
<text stroke="#31558a" stroke-width="0.12" x="267.7" y="543.4" font-size="8.4" fill="#31558a" text-anchor="middle">16</text>
<text stroke="#31558a" stroke-width="0.12" x="321.9" y="543.4" font-size="8.4" fill="#31558a" text-anchor="middle">13</text>
<text stroke="#31558a" stroke-width="0.12" x="376.1" y="543.4" font-size="8.4" fill="#31558a" text-anchor="middle">16</text>
<text stroke="#31558a" stroke-width="0.12" x="430.3" y="543.4" font-size="8.4" fill="#31558a" text-anchor="middle">16</text>
<text stroke="#31558a" stroke-width="0.12" x="484.5" y="543.4" font-size="8.4" fill="#31558a" text-anchor="middle">16</text>
<text stroke="#5aac58" stroke-width="0.12" x="19.0" y="555.2" font-size="8.4" fill="#5aac58" textLength="72.6" lengthAdjust="spacingAndGlyphs">non-inhibitor cohort</text>
<text stroke="#4fa04f" stroke-width="0.12" x="102.6" y="555.2" font-size="8.4" fill="#4fa04f" text-anchor="middle">45</text>
<text stroke="#4fa04f" stroke-width="0.12" x="132.2" y="555.2" font-size="8.4" fill="#4fa04f" text-anchor="middle">43</text>
<text stroke="#4fa04f" stroke-width="0.12" x="159.3" y="555.2" font-size="8.4" fill="#4fa04f" text-anchor="middle">36</text>
<text stroke="#4fa04f" stroke-width="0.12" x="186.4" y="555.2" font-size="8.4" fill="#4fa04f" text-anchor="middle">33</text>
<text stroke="#4fa04f" stroke-width="0.12" x="213.5" y="555.2" font-size="8.4" fill="#4fa04f" text-anchor="middle">31</text>
<text stroke="#4fa04f" stroke-width="0.12" x="267.7" y="555.2" font-size="8.4" fill="#4fa04f" text-anchor="middle">33</text>
<text stroke="#4fa04f" stroke-width="0.12" x="321.9" y="555.2" font-size="8.4" fill="#4fa04f" text-anchor="middle">43</text>
<text stroke="#4fa04f" stroke-width="0.12" x="376.1" y="555.2" font-size="8.4" fill="#4fa04f" text-anchor="middle">32</text>
<text stroke="#4fa04f" stroke-width="0.12" x="430.3" y="555.2" font-size="8.4" fill="#4fa04f" text-anchor="middle">29</text>
<text stroke="#4fa04f" stroke-width="0.12" x="484.5" y="555.2" font-size="8.4" fill="#4fa04f" text-anchor="middle">31</text>
<text stroke="#b52e4c" stroke-width="0.12" x="68.3" y="567.0" font-size="8.4" fill="#b52e4c" textLength="23.3" lengthAdjust="spacingAndGlyphs">overall</text>
<text stroke="#b02c4a" stroke-width="0.12" x="102.6" y="567.0" font-size="8.4" fill="#b02c4a" text-anchor="middle">66</text>
<text stroke="#b02c4a" stroke-width="0.12" x="132.2" y="567.0" font-size="8.4" fill="#b02c4a" text-anchor="middle">61</text>
<text stroke="#b02c4a" stroke-width="0.12" x="159.3" y="567.0" font-size="8.4" fill="#b02c4a" text-anchor="middle">57</text>
<text stroke="#b02c4a" stroke-width="0.12" x="186.4" y="567.0" font-size="8.4" fill="#b02c4a" text-anchor="middle">45</text>
<text stroke="#b02c4a" stroke-width="0.12" x="213.5" y="567.0" font-size="8.4" fill="#b02c4a" text-anchor="middle">48</text>
<text stroke="#b02c4a" stroke-width="0.12" x="267.7" y="567.0" font-size="8.4" fill="#b02c4a" text-anchor="middle">49</text>
<text stroke="#b02c4a" stroke-width="0.12" x="321.9" y="567.0" font-size="8.4" fill="#b02c4a" text-anchor="middle">56</text>
<text stroke="#b02c4a" stroke-width="0.12" x="376.1" y="567.0" font-size="8.4" fill="#b02c4a" text-anchor="middle">48</text>
<text stroke="#b02c4a" stroke-width="0.12" x="430.3" y="567.0" font-size="8.4" fill="#b02c4a" text-anchor="middle">45</text>
<text stroke="#b02c4a" stroke-width="0.12" x="484.5" y="567.0" font-size="8.4" fill="#b02c4a" text-anchor="middle">47</text>
<rect x="0.5" y="0.5" width="519" height="575" fill="none" stroke="#6c6c6c" stroke-width="1"/>
</svg></div></body></html>
